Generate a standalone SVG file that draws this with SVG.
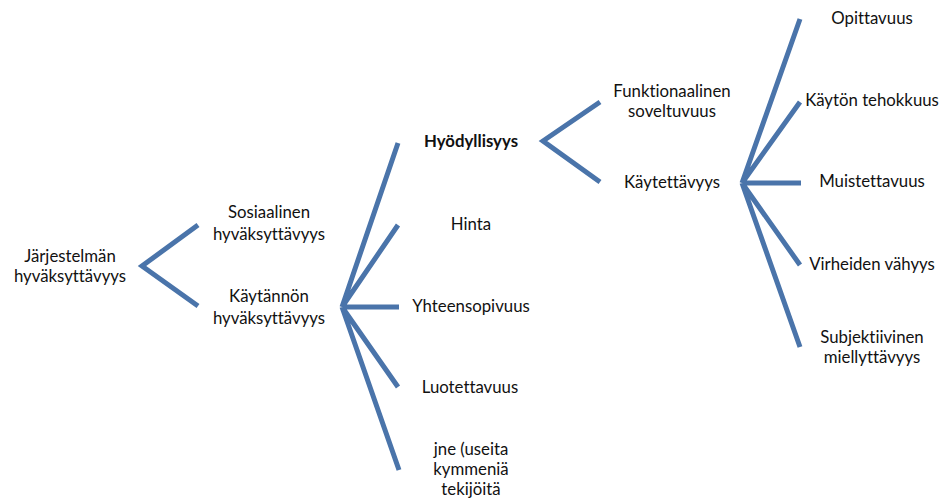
<svg xmlns="http://www.w3.org/2000/svg" width="942" height="500" viewBox="0 0 942 500">
<style>
.c{stroke:#4a74aa;stroke-width:5;fill:none;stroke-linecap:butt}
text{font-family:Lato,"Open Sans","Liberation Sans",sans-serif;font-size:16.8px;fill:#111;text-anchor:middle;font-variant-ligatures:none}
.b{font-weight:bold}
</style>
<rect width="942" height="500" fill="#fff"/>
<g id="connectors">
<path class="c" d="M198,225 L142,266 L198,306"/>
<path class="c" d="M398,143 L342,307 M398,225 L342,307 M399,307 L342,307 M398,387 L342,307 M399,470 L342,307"/>
<path class="c" d="M600,102 L543,141 L600,182"/>
<path class="c" d="M800,19 L742,183 M800,102 L742,183 M801,183 L742,183 M800,265 L742,183 M800,347 L742,183"/>
</g>
<g id="n-jarjestelman"><text x="70" y="262">Järjestelmän</text><text x="70" y="282">hyväksyttävyys</text></g>
<g id="n-sosiaalinen"><text x="269" y="218">Sosiaalinen</text><text x="269" y="240">hyväksyttävyys</text></g>
<g id="n-kaytannon"><text x="269" y="302">Käytännön</text><text x="269" y="324">hyväksyttävyys</text></g>
<g id="n-hyodyllisyys"><text class="b" x="471" y="147">Hyödyllisyys</text></g>
<g id="n-hinta"><text x="471" y="230">Hinta</text></g>
<g id="n-yhteensopivuus"><text x="471" y="312">Yhteensopivuus</text></g>
<g id="n-luotettavuus"><text x="470" y="393">Luotettavuus</text></g>
<g id="n-jne"><text x="471" y="455">jne (useita</text><text x="471" y="475">kymmeniä</text><text x="471" y="495">tekijöitä</text></g>
<g id="n-funktionaalinen"><text x="672" y="97">Funktionaalinen</text><text x="672" y="117">soveltuvuus</text></g>
<g id="n-kaytettavyys"><text x="672" y="188">Käytettävyys</text></g>
<g id="n-opittavuus"><text x="872" y="24">Opittavuus</text></g>
<g id="n-kayton"><text x="872" y="106">Käytön tehokkuus</text></g>
<g id="n-muistettavuus"><text x="872" y="187">Muistettavuus</text></g>
<g id="n-virheiden"><text x="872" y="270">Virheiden vähyys</text></g>
<g id="n-subjektiivinen"><text x="872" y="343">Subjektiivinen</text><text x="872" y="363">miellyttävyys</text></g>
</svg>
